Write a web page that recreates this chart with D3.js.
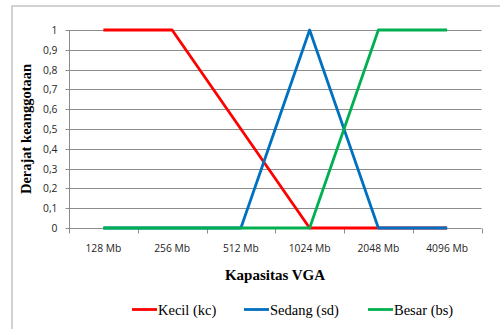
<!DOCTYPE html>
<html>
<head>
<meta charset="utf-8">
<script src="https://cdn.jsdelivr.net/npm/d3@7"></script>
<style>
  html, body { margin: 0; padding: 0; background: #fff; }
  svg { display: block; }
</style>
</head>
<body>
<svg id="chart" width="500" height="329"></svg>
<script>
// Membership functions for VGA capacity
const categories = ["128 Mb", "256 Mb", "512 Mb", "1024 Mb", "2048 Mb", "4096 Mb"];
const kecil  = [1, 1, 0.5, 0, 0, 0];
const sedang = [0, 0, 0, 1, 0, 0];
const besar  = [0, 0, 0, 0, 1, 1];
const yTicks = [0, 0.1, 0.2, 0.3, 0.4, 0.5, 0.6, 0.7, 0.8, 0.9, 1];

const series = [
  { name: "Kecil (kc)",  values: kecil,  color: "#ff0000" },
  { name: "Sedang (sd)", values: sedang, color: "#0070c0" },
  { name: "Besar (bs)",  values: besar,  color: "#00b050" }
];

const svg = d3.select("#chart");
const plot = { left: 69, right: 481.5, top: 30, bottom: 228 };

// outer chart frame
svg.append("rect")
  .attr("x", 12).attr("y", 6)
  .attr("width", 520).attr("height", 340)
  .attr("fill", "none").attr("stroke", "#a6a6a6").attr("stroke-width", 1);

const x = d3.scaleBand().domain(categories).range([plot.left, plot.right]).padding(0);
const y = d3.scaleLinear().domain([0, 1]).range([plot.bottom, plot.top]);

// horizontal gridlines
svg.append("g")
  .selectAll("line")
  .data(yTicks.filter(d => d > 0))
  .join("line")
  .attr("x1", plot.left).attr("x2", plot.right)
  .attr("y1", d => Math.round(y(d)) + 0.5).attr("y2", d => Math.round(y(d)) + 0.5)
  .attr("stroke", "#8c8c8c").attr("stroke-width", 1);

// y axis
const fmt = d => d3.format(".1~f")(d).replace(".", ",");
const yAxis = svg.append("g")
  .attr("transform", `translate(${plot.left + 0.5},0)`)
  .call(d3.axisLeft(y).tickValues(yTicks).tickFormat(fmt).tickSize(4).tickPadding(8));
yAxis.select(".domain").attr("stroke", "#8c8c8c").attr("d", `M0,${plot.top}V${plot.bottom + 5}`);
yAxis.selectAll(".tick line").attr("stroke", "#8c8c8c");
yAxis.selectAll(".tick").attr("transform", d => `translate(0,${Math.round(y(d)) + 0.5})`);
yAxis.selectAll("text")
  .attr("font-family", "'Open Sans', 'Noto Sans', sans-serif")
  .attr("font-size", "10.3px").attr("fill", "#262626");

// x axis with ticks at band boundaries
const xAxisG = svg.append("g").attr("transform", `translate(0,${Math.round(plot.bottom) + 0.5})`);
xAxisG.append("line")
  .attr("x1", plot.left - 3).attr("x2", plot.right)
  .attr("stroke", "#8c8c8c");
const bounds = categories.map(c => x(c)).concat([plot.right]);
xAxisG.selectAll("line.tk")
  .data(bounds)
  .join("line").attr("class", "tk")
  .attr("x1", d => Math.round(d) + 0.5).attr("x2", d => Math.round(d) + 0.5)
  .attr("y1", 0).attr("y2", 5)
  .attr("stroke", "#8c8c8c");
xAxisG.selectAll("text")
  .data(categories)
  .join("text")
  .attr("x", d => x(d) + x.bandwidth() / 2)
  .attr("y", 23.5)
  .attr("text-anchor", "middle")
  .attr("font-family", "'Open Sans', 'Noto Sans', sans-serif")
  .attr("font-size", "10.3px").attr("fill", "#262626")
  .text(d => d);

// series lines
const line = d3.line()
  .x((d, i) => x(categories[i]) + x.bandwidth() / 2)
  .y(d => y(d));
svg.append("g")
  .selectAll("path")
  .data(series)
  .join("path")
  .attr("d", d => line(d.values))
  .attr("fill", "none")
  .attr("stroke", d => d.color)
  .attr("stroke-width", 2.8)
  .attr("stroke-linejoin", "round");

// axis titles
svg.append("text")
  .attr("x", 275).attr("y", 280)
  .attr("text-anchor", "middle")
  .attr("font-family", "'Liberation Serif', 'Times New Roman', serif")
  .attr("font-weight", "bold").attr("font-size", "15px").attr("fill", "#000")
  .text("Kapasitas VGA");

svg.append("text")
  .attr("transform", "translate(31,129) rotate(-90)")
  .attr("text-anchor", "middle")
  .attr("font-family", "'Liberation Serif', 'Times New Roman', serif")
  .attr("font-weight", "bold").attr("font-size", "14.5px").attr("fill", "#000")
  .text("Derajat keanggotaan");

// legend
const legendX = [132, 244, 368];
const lg = svg.append("g").selectAll("g")
  .data(series)
  .join("g")
  .attr("transform", (d, i) => `translate(${legendX[i]},309.5)`);
lg.append("line")
  .attr("x1", 0).attr("x2", 25)
  .attr("stroke", d => d.color).attr("stroke-width", 2.8);
lg.append("text")
  .attr("x", 26).attr("y", 5)
  .attr("font-family", "'Liberation Serif', 'Times New Roman', serif")
  .attr("font-size", "14.5px").attr("fill", "#000")
  .text(d => d.name);
</script>
</body>
</html>
